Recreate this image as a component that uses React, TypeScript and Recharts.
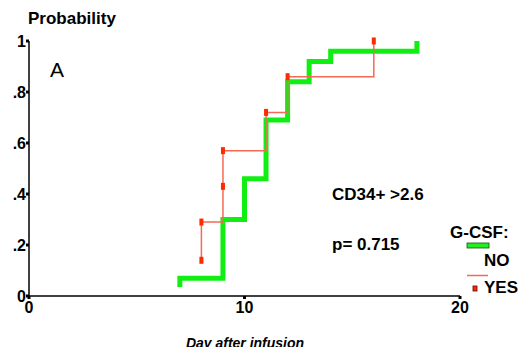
import React from 'react';
import { LineChart, Line, XAxis, YAxis } from 'recharts';

// G-CSF: NO (green) — cumulative probability by day
const noDays = [7, 7, 9, 10, 11, 12, 13, 14, 18];
const noProb = [0.035, 0.07, 0.3, 0.46, 0.69, 0.84, 0.92, 0.96, 1.0];

// G-CSF: YES (red)
const yesDays = [8, 8, 9, 9, 11, 12, 16];
const yesProb = [0.14, 0.29, 0.43, 0.57, 0.72, 0.86, 1.0];

const xTicks = [0, 10, 20];
const yTicks = [0, 0.2, 0.4, 0.6, 0.8, 1];

const noData = noDays.map((d, i) => ({ day: d, p: noProb[i] }));
const yesData = yesDays.map((d, i) => ({ day: d, p: yesProb[i] }));

const FONT = 'Arial, "Liberation Sans", sans-serif';

const fmtY = (v: number) => (v === 0 ? '0' : v === 1 ? '1' : '.' + Math.round(v * 10));

const RedMark = (props: any) => {
  const { cx, cy } = props;
  if (cx == null || cy == null) return null;
  return <rect x={cx - 2} y={cy - 3.5} width={4} height={7} fill="#ff2a00" />;
};

const App: React.FC = () => {
  return (
    <div style={{ position: 'absolute', left: 0, top: 0, width: 520, height: 347, background: '#fff', fontFamily: FONT }}>
      <LineChart width={520} height={347} margin={{ top: 41, right: 60, left: 0, bottom: 0 }}>
        <XAxis
          type="number"
          dataKey="day"
          domain={[0, 20]}
          ticks={xTicks}
          height={51}
          axisLine={{ stroke: '#000', strokeWidth: 1.5 }}
          tickLine={{ stroke: '#000', strokeWidth: 3 }}
          tickSize={3}
          tickMargin={3}
          tick={{ fill: '#000', fontSize: 16, fontWeight: 'bold', fontFamily: FONT }}
        />
        <YAxis
          type="number"
          dataKey="p"
          domain={[0, 1]}
          ticks={yTicks}
          width={29}
          tickFormatter={fmtY}
          axisLine={{ stroke: '#000', strokeWidth: 1.5 }}
          tickLine={{ stroke: '#000', strokeWidth: 3 }}
          tickSize={3}
          tickMargin={0}
          tick={{ fill: '#000', fontSize: 16, fontWeight: 'bold', fontFamily: FONT }}
        />
        <Line
          data={noData}
          dataKey="p"
          type="stepAfter"
          stroke="#11ee11"
          strokeWidth={5}
          dot={false}
          isAnimationActive={false}
        />
        <Line
          data={yesData}
          dataKey="p"
          type="stepAfter"
          stroke="#f46a55"
          strokeWidth={1.5}
          dot={<RedMark />}
          isAnimationActive={false}
        />
      </LineChart>
      <svg width={520} height={347} style={{ position: 'absolute', left: 0, top: 0, pointerEvents: 'none', fontFamily: FONT }}>
        <text x={28} y={24} fontSize={17} fontWeight="bold" fill="#000">Probability</text>
        <text x={50} y={77} fontSize={21} fill="#000">A</text>
        <text x={332} y={200} fontSize={17} fontWeight="bold" fill="#000">CD34+ &gt;2.6</text>
        <text x={332} y={250} fontSize={17} fontWeight="bold" fill="#000">p= 0.715</text>
        <text x={245} y={348} fontSize={14} fontWeight="bold" fontStyle="italic" textAnchor="middle" fill="#000">Day after infusion</text>
        {/* legend */}
        <text x={450} y={238} fontSize={17} fontWeight="bold" fill="#000">G-CSF:</text>
        <rect x={467} y={243} width={22} height={5} fill="#22ee22" stroke="#0a5a0a" strokeWidth={0.8} />
        <text x={484} y={266} fontSize={17} fontWeight="bold" fill="#000">NO</text>
        <line x1={467} x2={488} y1={275.5} y2={275.5} stroke="#f46a55" strokeWidth={1.5} />
        <rect x={473} y={286} width={4} height={5} fill="#ff2a00" stroke="#600" strokeWidth={0.8} />
        <text x={484} y={293} fontSize={17} fontWeight="bold" fill="#000">YES</text>
      </svg>
    </div>
  );
};

export default App;
